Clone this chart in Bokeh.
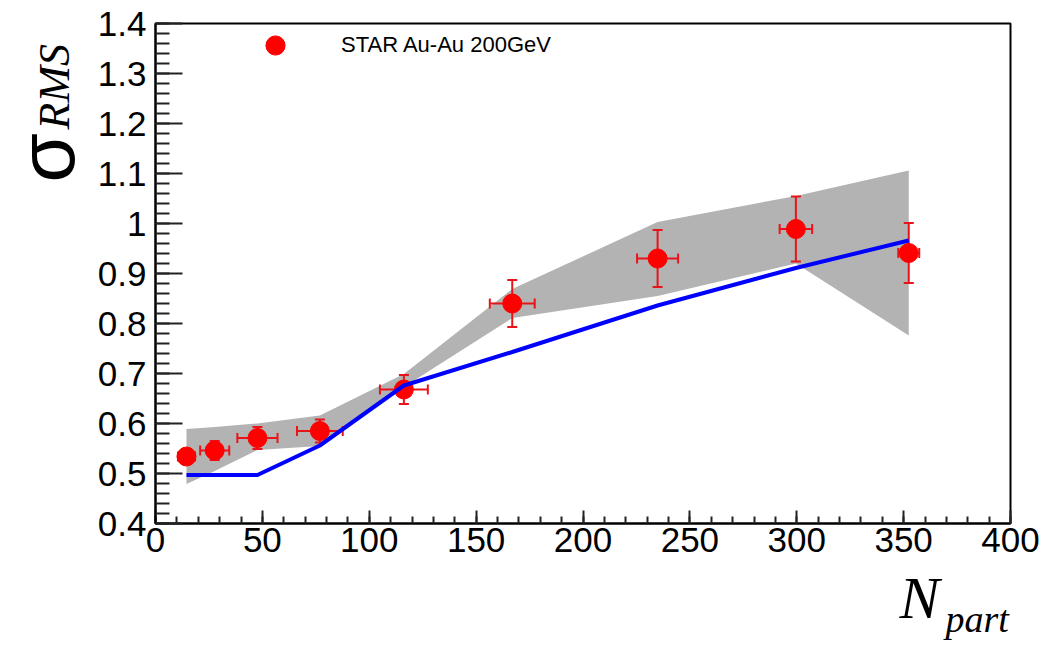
import math
from bokeh.plotting import figure
from bokeh.layouts import column
from bokeh.models import (ColumnDataSource, Legend, LegendItem, Label,
                          FixedTicker, CustomJSTickFormatter, Range1d)
from bokeh.core.properties import value
from bokeh.embed import file_html
from bokeh.resources import INLINE

# ---- data ----
npart = [14.5, 27.7, 47.7, 76.9, 116.2, 166.9, 234.9, 299.6, 352.4]
sigma = [0.534, 0.546, 0.571, 0.585, 0.668, 0.840, 0.930, 0.989, 0.941]
npart_err = [4.0, 6.8, 9.4, 10.7, 11.2, 10.5, 9.6, 7.6, 4.9]
sigma_err = [0.015, 0.019, 0.022, 0.023, 0.029, 0.047, 0.057, 0.065, 0.060]

model_npart = [14.5, 27.7, 47.7, 76.9, 116.2, 166.9, 234.9, 299.6, 352.4]
model_line = [0.497, 0.497, 0.497, 0.556, 0.676, 0.743, 0.836, 0.911, 0.966]
band_upper = [0.589, 0.593, 0.600, 0.616, 0.699, 0.869, 1.003, 1.055, 1.106]
band_lower = [0.479, 0.505, 0.547, 0.555, 0.673, 0.811, 0.855, 0.920, 0.776]

x_ticks = [0, 50, 100, 150, 200, 250, 300, 350, 400]
y_ticks = [0.4, 0.5, 0.6, 0.7, 0.8, 0.9, 1.0, 1.1, 1.2, 1.3, 1.4]
legend_label = "STAR Au-Au 200GeV"
y_title_main = "σ"
y_title_sub = "RMS"
x_title_main = "N"
x_title_sub = "part"

RED = "#ff0000"
ERR = "#e8141a"
W, H = 1047, 648
LEFT, RIGHT, TOP, BOTTOM = 155, 37, 23, 125

p = figure(frame_width=W - LEFT - RIGHT, frame_height=H - TOP - BOTTOM,
           min_border_left=LEFT, min_border_right=RIGHT, min_border_top=TOP, min_border_bottom=BOTTOM,
           x_range=Range1d(0, 400), y_range=Range1d(0.4, 1.4),
           output_backend="svg", toolbar_location=None,
           background_fill_color="white", border_fill_color="white")
p.grid.visible = False
p.outline_line_color = "black"
p.outline_line_width = 2

xminor = [v for v in range(0, 401, 10)]
yminor = [round(0.4 + 0.02 * i, 2) for i in range(51)]
p.xaxis.ticker = FixedTicker(ticks=x_ticks, minor_ticks=xminor)
p.yaxis.ticker = FixedTicker(ticks=y_ticks, minor_ticks=yminor)
p.yaxis.formatter = CustomJSTickFormatter(code="return String(Math.round(tick*10)/10);")
for ax in (p.xaxis[0], p.yaxis[0]):
    ax.axis_line_width = 2
    ax.axis_line_color = "black"
    ax.major_tick_line_color = "#222222"
    ax.minor_tick_line_color = "#222222"
    ax.major_tick_line_width = 2
    ax.minor_tick_line_width = 2
    ax.major_tick_out = 0
    ax.minor_tick_out = 0
    ax.major_label_text_font = "Liberation Sans"
    ax.major_label_text_font_size = "35px"
    ax.major_label_text_color = "black"
p.xaxis.major_tick_in = 13
p.xaxis.minor_tick_in = 7
p.yaxis.major_tick_in = 27
p.yaxis.minor_tick_in = 14
p.xaxis.major_label_standoff = 4
p.yaxis.major_label_standoff = 9

# band
p.varea(x=model_npart, y1=band_lower, y2=band_upper, fill_color="#b3b3b3")

# error bars drawn as glyphs
src = ColumnDataSource(dict(
    x=npart, y=sigma,
    xlo=[a - b for a, b in zip(npart, npart_err)], xhi=[a + b for a, b in zip(npart, npart_err)],
    ylo=[a - b for a, b in zip(sigma, sigma_err)], yhi=[a + b for a, b in zip(sigma, sigma_err)],
))
p.segment(x0="x", y0="ylo", x1="x", y1="yhi", source=src, line_color=ERR, line_width=2)
p.segment(x0="xlo", y0="y", x1="xhi", y1="y", source=src, line_color=ERR, line_width=2)
p.scatter(x="x", y="ylo", source=src, marker="dash", size=10, line_color=ERR, line_width=2)
p.scatter(x="x", y="yhi", source=src, marker="dash", size=10, line_color=ERR, line_width=2)
p.scatter(x="xlo", y="y", source=src, marker="dash", size=10, angle=math.pi / 2,
          line_color=ERR, line_width=2)
p.scatter(x="xhi", y="y", source=src, marker="dash", size=10, angle=math.pi / 2,
          line_color=ERR, line_width=2)

pts = p.scatter("x", "y", source=src, size=19, fill_color=RED, line_color=RED)

# model line
p.line(model_npart, model_line, line_color="#0000ff", line_width=4)

# legend: location is the bottom-left corner, measured from the frame's bottom-left
leg = Legend(items=[LegendItem(label=legend_label, renderers=[pts])],
             location=(96, 454), orientation="vertical",
             glyph_width=48, glyph_height=48, label_height=48, label_standoff=42,
             padding=0, margin=0, spacing=0,
             background_fill_alpha=0, border_line_alpha=0,
             label_text_font="Liberation Sans", label_text_font_size="22px",
             label_text_color="black")
p.add_layout(leg, "center")


# ---- transparent overlay for the axis titles ----
# its frame is aligned with the main frame horizontally (155..1010) and spans the full page height
def xd(px):
    return (px - LEFT) / 2.1375


def yd(py):
    return 0.4 + (H - BOTTOM - py) / 500.0


t = figure(width=W, height=H, min_border_left=0, min_border_right=0,
           min_border_top=0, min_border_bottom=0, title=None,
           x_axis_type=None, y_axis_type=None,
           x_range=Range1d(xd(LEFT), xd(W - RIGHT)), y_range=Range1d(yd(H), yd(0)),
           output_backend="svg", toolbar_location=None,
           background_fill_alpha=0, border_fill_alpha=0)
t.outline_line_color = None
t.grid.visible = False
t.margin = (-H, 0, 0, 0)

# x title inside the overlay frame (anchors at the text's middle line)
t.text(x=[xd(899)], y=[yd(597)], text=[x_title_main],
       text_font=value("Liberation Serif"), text_font_style="italic", text_font_size="60px",
       text_align="left", text_baseline="middle", text_color="black")
t.text(x=[xd(945)], y=[yd(618)], text=[x_title_sub],
       text_font=value("Liberation Serif"), text_font_style="italic", text_font_size="38px",
       text_align="left", text_baseline="middle", text_color="black")

# y title: labels in the overlay's (otherwise empty) left side panel, positioned in data units
t.add_layout(Label(x=xd(46), y=yd(182), text=y_title_main, angle=math.pi / 2,
                   text_font="Liberation Sans", text_font_size="80px",
                   text_align="left", text_baseline="middle", text_color="black"), "left")
t.add_layout(Label(x=xd(54), y=yd(129), text=y_title_sub, angle=math.pi / 2,
                   text_font="Liberation Serif", text_font_style="italic", text_font_size="44px",
                   text_align="left", text_baseline="middle", text_color="black"), "left")

page = column(p, t, spacing=0)
open("out.html", "w").write(file_html(page, INLINE))
